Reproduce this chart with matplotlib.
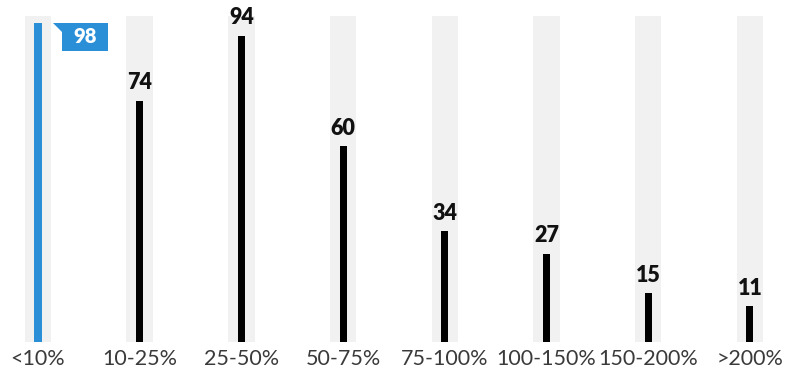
import matplotlib.pyplot as plt
from matplotlib.patches import Polygon

categories = ['<10%', '10-25%', '25-50%', '50-75%', '75-100%', '100-150%', '150-200%', '>200%']
values = [98, 74, 94, 60, 34, 27, 15, 11]
backdrop = 100

blue = '#2b8fd8'
x = list(range(len(categories)))

fig = plt.figure(figsize=(7.85, 3.72), dpi=100)
ax = fig.add_axes([0, 30 / 372, 1, 342 / 372])

# fondo gris de cada columna
ax.bar(x, [backdrop] * len(x), width=0.26, color='#f1f1f1', zorder=1)

colors = [blue] + ['black'] * (len(x) - 1)
ax.bar(x, values, width=0.07, color=colors, zorder=2)

for i, v in enumerate(values[1:], start=1):
    ax.text(i, v + 2.3, str(v), ha='center', va='bottom', fontsize=15.5,
            fontweight='heavy', family='Lato', color='#111111', zorder=3)

# etiqueta destacada del primer valor
top = values[0]
left, right, h, tail = 0.236, 0.688, 8.6, 0.09
flag = Polygon([(left - tail, top), (right, top), (right, top - h),
                (left, top - h), (left, top - 3.0)],
               closed=True, facecolor=blue, edgecolor='none', zorder=3)
ax.add_patch(flag)
ax.text((left + right) / 2, top - h / 2, str(top), ha='center', va='center',
        fontsize=14.5, fontweight='heavy', family='Lato', color='white', zorder=4)

ax.set_xlim(-38 / 101.7, (785 - 38) / 101.7)
ax.set_ylim(0, 342 / 3.26)
ax.set_xticks(x)
ax.set_xticklabels(categories, fontsize=15.5, family='Lato', color='#3a3a3a')
ax.tick_params(axis='x', length=0, pad=5)
ax.set_yticks([])
for s in ax.spines.values():
    s.set_visible(False)

fig.savefig('out.png', dpi=100)
